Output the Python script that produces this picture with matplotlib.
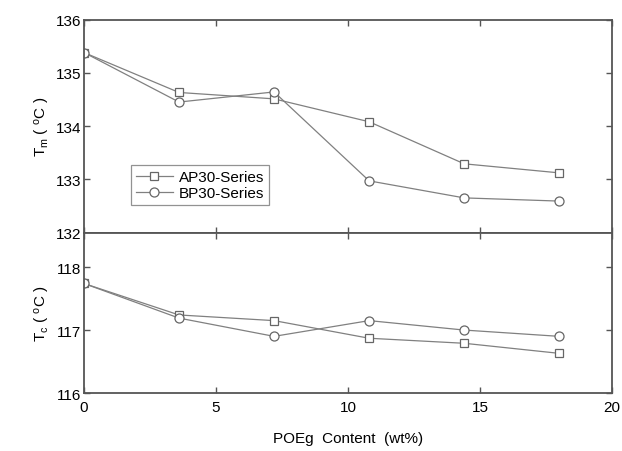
"""
Melting / crystallization temperature vs POEg content, two stacked panels.
"""

import matplotlib
matplotlib.use("Agg")
import matplotlib.pyplot as plt

# data
poeg = [0, 3.6, 7.2, 10.8, 14.4, 18]
tm_ap = [135.38, 134.63, 134.51, 134.08, 133.29, 133.12]
tm_bp = [135.38, 134.45, 134.64, 132.97, 132.65, 132.59]
tc_ap = [117.74, 117.24, 117.15, 116.87, 116.79, 116.63]
tc_bp = [117.74, 117.19, 116.90, 117.15, 117.00, 116.90]
series_names = ["AP30-Series", "BP30-Series"]

plt.rcParams["font.family"] = ["Liberation Sans", "DejaVu Sans"]
plt.rcParams["mathtext.fontset"] = "custom"
plt.rcParams["mathtext.rm"] = "Liberation Sans"
plt.rcParams["mathtext.it"] = "Liberation Sans"

axis_col = "#555555"
line_col = "#808080"
fs = 11

fig = plt.figure(figsize=(6.22, 4.52), dpi=100)
ax_top = fig.add_axes([0.135, 0.4834, 0.849, 0.4712])
ax_bot = fig.add_axes([0.135, 0.1283, 0.849, 0.3551])

mk = dict(color=line_col, lw=0.9, mfc="white", mec="#666666", mew=0.9)

ax_top.plot(poeg, tm_ap, marker="s", ms=5.5, label=series_names[0], **mk)
ax_top.plot(poeg, tm_bp, marker="o", ms=6.5, label=series_names[1], **mk)
ax_bot.plot(poeg, tc_ap, marker="s", ms=5.5, **mk)
ax_bot.plot(poeg, tc_bp, marker="o", ms=6.5, **mk)

ax_top.set_ylim(132, 136)
ax_top.set_yticks([132, 133, 134, 135, 136])
ax_bot.set_ylim(116, 118.55)
ax_bot.set_yticks([116, 117, 118])

for ax in (ax_top, ax_bot):
    ax.set_xlim(0, 20)
    ax.set_xticks([0, 5, 10, 15, 20])
    ax.tick_params(direction="in", top=True, right=True, length=4,
                   width=1, color=axis_col, labelsize=fs, pad=2)
    ax.tick_params(axis="x", pad=5)
    for sp in ax.spines.values():
        sp.set_color(axis_col)
        sp.set_linewidth(1.3)

ax_top.tick_params(labelbottom=False)

ax_top.set_ylabel(r"T$_{\rm m}$ ( $^{\rm o}$C )", fontsize=fs)
ax_bot.set_ylabel(r"T$_{\rm c}$ ( $^{\rm o}$C )", fontsize=fs)
ax_bot.set_xlabel("POEg  Content  (wt%)", fontsize=fs, labelpad=12)
ax_top.yaxis.set_label_coords(-0.06, 0.5)
ax_bot.yaxis.set_label_coords(-0.06, 0.5)

leg = ax_top.legend(loc="lower left", bbox_to_anchor=(0.09, 0.13),
                    frameon=True, fancybox=False, fontsize=fs,
                    handlelength=2.4, borderpad=0.3, labelspacing=0.15,
                    handletextpad=0.4, borderaxespad=0)
leg.get_frame().set_edgecolor("#777777")
leg.get_frame().set_linewidth(0.9)

fig.savefig("out.png", dpi=100)
